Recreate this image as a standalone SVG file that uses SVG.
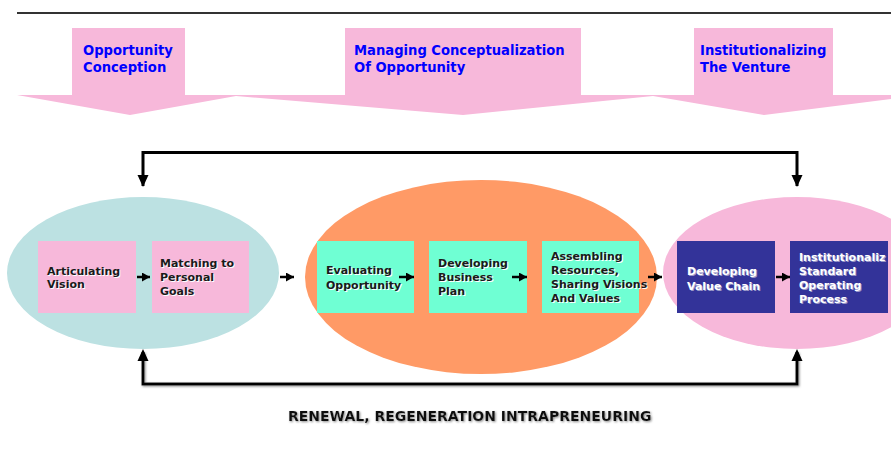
<svg xmlns="http://www.w3.org/2000/svg" width="891" height="453" viewBox="0 0 891 453">
  <style>
    .phase { font-family: 'DejaVu Sans Condensed', 'DejaVu Sans', sans-serif; font-stretch: condensed; font-weight: bold; font-size: 14.6px; fill: #0000FF; }
    .lbl { font-family: 'DejaVu Sans', Verdana, sans-serif; font-weight: bold; font-size: 11px; }
    .dark { fill: #1a1a1a; }
    .dark-sh { fill: #ffffff; }
    .light { fill: #ffffff; }
    .light-sh { fill: #9a98c8; }
    .box-pink { fill: #F7B8DA; }
    .box-mint { fill: #6FFFD3; }
    .box-navy { fill: #333399; }
    .link { stroke: #000; stroke-width: 3; fill: none; }
    .step { stroke: #000; stroke-width: 2.5; fill: none; }
    .footer { font-family: 'DejaVu Sans', Verdana, sans-serif; font-weight: bold; font-size: 14px; fill: #111; }
  </style>
  <defs>
    <marker id="small" markerWidth="8" markerHeight="9" refX="8" refY="4.5" orient="auto" markerUnits="userSpaceOnUse">
      <path d="M0,0 L8,4.5 L0,9 Z" fill="#000"/>
    </marker>
    <filter id="soft" x="-5%" y="-40%" width="110%" height="180%">
      <feGaussianBlur in="SourceAlpha" stdDeviation="1.2"/>
      <feOffset dx="1" dy="1" result="b"/>
      <feFlood flood-color="#888"/>
      <feComposite in2="b" operator="in"/>
      <feMerge><feMergeNode/><feMergeNode in="SourceGraphic"/></feMerge>
    </filter>
  </defs>

  <!-- header rule -->
  <line x1="17" y1="13" x2="891" y2="13" stroke="#333" stroke-width="2"/>

  <!-- phase banner -->
  <g id="banner">
    <path d="M17,95 L72,95 L72,28 L185,28 L185,95 L345,95 L345,28 L581,28 L581,95 L694,95 L694,28 L833,28 L833,95 L891,95 L891,99 L764,115 L653,96 L463,115 L236,96 L130,115 Z" fill="#F7B8DA"/>
    <text class="phase" x="83" y="55">Opportunity</text>
    <text class="phase" x="83" y="72">Conception</text>
    <text class="phase" x="354" y="55">Managing Conceptualization</text>
    <text class="phase" x="354" y="72">Of Opportunity</text>
    <text class="phase" x="700" y="55">Institutionalizing</text>
    <text class="phase" x="700" y="72">The Venture</text>
  </g>

  <!-- stage ellipses -->
  <g id="stage-conception">
    <ellipse cx="143" cy="273" rx="136" ry="76" fill="#BCE1E2"/>
  </g>
  <g id="stage-managing">
    <ellipse cx="481" cy="277" rx="176" ry="97" fill="#FF9A66"/>
  </g>
  <g id="stage-institution">
    <ellipse cx="797" cy="273" rx="134" ry="76" fill="#F7B8DA"/>
  </g>

  <!-- step boxes -->
  <g id="articulating-vision">
    <rect class="box-pink" x="38" y="241" width="98" height="72"/>
    <g class="lbl">
      <text class="dark-sh" x="48" y="276">Articulating</text><text class="dark" x="47" y="275">Articulating</text>
      <text class="dark-sh" x="48" y="289">Vision</text><text class="dark" x="47" y="288">Vision</text>
    </g>
  </g>
  <g id="matching-goals">
    <rect class="box-pink" x="152" y="241" width="97" height="72"/>
    <g class="lbl">
      <text class="dark-sh" x="161" y="268">Matching to</text><text class="dark" x="160" y="267">Matching to</text>
      <text class="dark-sh" x="161" y="282">Personal</text><text class="dark" x="160" y="281">Personal</text>
      <text class="dark-sh" x="161" y="296">Goals</text><text class="dark" x="160" y="295">Goals</text>
    </g>
  </g>
  <g id="evaluating-opportunity">
    <rect class="box-mint" x="317" y="241" width="97" height="72"/>
    <g class="lbl">
      <text class="dark-sh" x="327" y="275">Evaluating</text><text class="dark" x="326" y="274">Evaluating</text>
      <text class="dark-sh" x="327" y="290">Opportunity</text><text class="dark" x="326" y="289">Opportunity</text>
    </g>
  </g>
  <g id="business-plan">
    <rect class="box-mint" x="429" y="241" width="98" height="72"/>
    <g class="lbl">
      <text class="dark-sh" x="439" y="268">Developing</text><text class="dark" x="438" y="267">Developing</text>
      <text class="dark-sh" x="439" y="282">Business</text><text class="dark" x="438" y="281">Business</text>
      <text class="dark-sh" x="439" y="296">Plan</text><text class="dark" x="438" y="295">Plan</text>
    </g>
  </g>
  <g id="assembling-resources">
    <rect class="box-mint" x="542" y="241" width="97" height="72"/>
    <g class="lbl">
      <text class="dark-sh" x="552" y="261">Assembling</text><text class="dark" x="551" y="260">Assembling</text>
      <text class="dark-sh" x="552" y="275">Resources,</text><text class="dark" x="551" y="274">Resources,</text>
      <text class="dark-sh" x="552" y="289">Sharing Visions</text><text class="dark" x="551" y="288">Sharing Visions</text>
      <text class="dark-sh" x="552" y="303">And Values</text><text class="dark" x="551" y="302">And Values</text>
    </g>
  </g>
  <g id="value-chain">
    <rect class="box-navy" x="677" y="241" width="98" height="72"/>
    <g class="lbl">
      <text class="light-sh" x="688" y="276">Developing</text><text class="light" x="687" y="275">Developing</text>
      <text class="light-sh" x="688" y="291">Value Chain</text><text class="light" x="687" y="290">Value Chain</text>
    </g>
  </g>
  <g id="operating-process">
    <rect class="box-navy" x="790" y="241" width="98" height="72"/>
    <g class="lbl">
      <text class="light-sh" x="800" y="262">Institutionaliz</text><text class="light" x="799" y="261">Institutionaliz</text>
      <text class="light-sh" x="800" y="276">Standard</text><text class="light" x="799" y="275">Standard</text>
      <text class="light-sh" x="800" y="290">Operating</text><text class="light" x="799" y="289">Operating</text>
      <text class="light-sh" x="800" y="304">Process</text><text class="light" x="799" y="303">Process</text>
    </g>
  </g>

  <!-- connectors -->
  <g id="connectors">
    <line class="step" x1="137" y1="277" x2="150" y2="277" marker-end="url(#small)"/>
    <line class="step" x1="280" y1="277" x2="294" y2="277" marker-end="url(#small)"/>
    <line class="step" x1="399" y1="277" x2="414" y2="277" marker-end="url(#small)"/>
    <line class="step" x1="512" y1="277" x2="527" y2="277" marker-end="url(#small)"/>
    <line class="step" x1="648" y1="277" x2="662" y2="277" marker-end="url(#small)"/>
    <line class="step" x1="776" y1="277" x2="790" y2="277" marker-end="url(#small)"/>
    <!-- feedback loop above -->
    <path class="link" d="M143,186 L143,152.5 L797,152.5 L797,186"/>
    <path d="M137.5,175 L148.5,175 L143,187 Z" fill="#000"/>
    <path d="M791.5,175 L802.5,175 L797,187 Z" fill="#000"/>
    <!-- renewal loop below -->
    <path class="link" d="M143,352 L143,384 L797,384 L797,352" stroke-width="3.5" filter="url(#soft)"/>
    <path d="M137.5,361 L148.5,361 L143,349 Z" fill="#000"/>
    <path d="M791.5,361 L802.5,361 L797,349 Z" fill="#000"/>
  </g>

  <text class="footer" x="288" y="421" filter="url(#soft)">RENEWAL, REGENERATION INTRAPRENEURING</text>
</svg>
